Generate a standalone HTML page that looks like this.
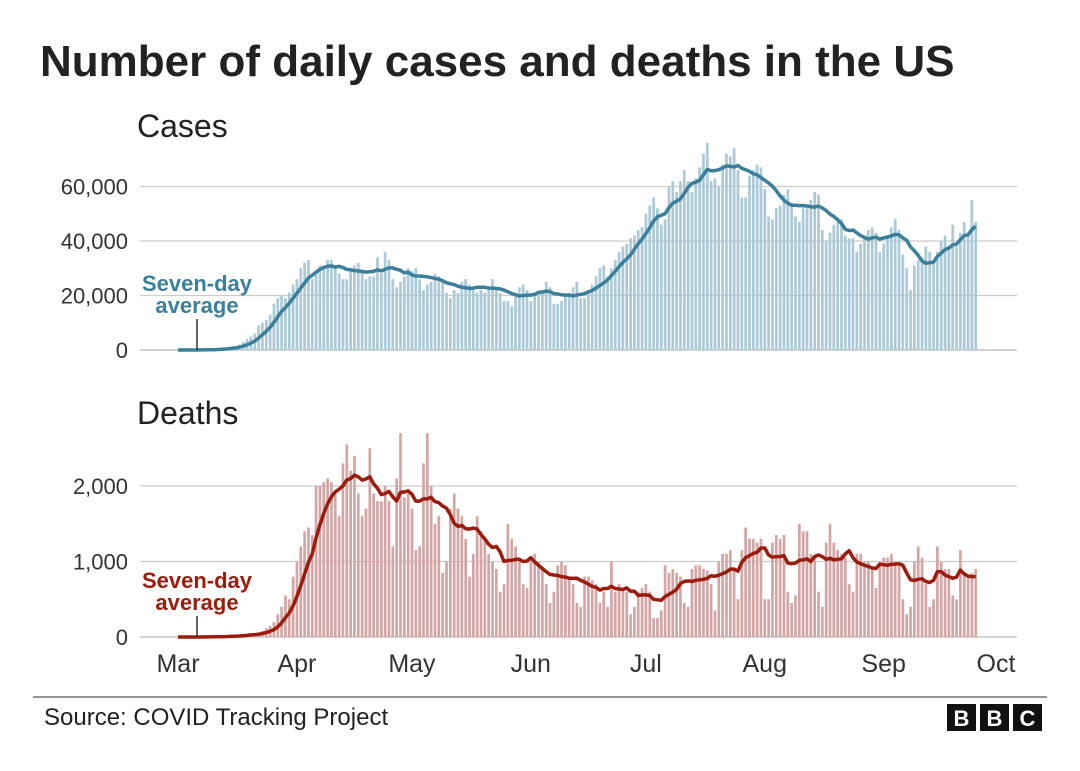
<!DOCTYPE html>
<html><head><meta charset="utf-8"><style>
body{margin:0;background:#fff;font-family:"Liberation Sans",sans-serif;}
#wrap{position:relative;width:1080px;height:771px;overflow:hidden;}
</style></head><body>
<div id="wrap">
<svg id="svg" width="1080" height="771">
<text x="40" y="76" font-size="44" font-weight="bold" fill="#222">Number of daily cases and deaths in the US</text>
<text x="137" y="137" font-size="32" fill="#222">Cases</text>
<text x="137" y="424" font-size="32" fill="#222">Deaths</text>
<g id="cases"></g>
<g id="deaths"></g>
<g id="xaxis"></g>
<text x="197" y="291" font-size="22" font-weight="bold" fill="#3a7f9c" text-anchor="middle">Seven-day</text>
<text x="197" y="313" font-size="22" font-weight="bold" fill="#3a7f9c" text-anchor="middle">average</text>
<line x1="197" y1="319" x2="197" y2="350" stroke="#333" stroke-width="1.5"/>
<text x="197" y="588" font-size="22" font-weight="bold" fill="#9b1c0c" text-anchor="middle">Seven-day</text>
<text x="197" y="610" font-size="22" font-weight="bold" fill="#9b1c0c" text-anchor="middle">average</text>
<line x1="197" y1="616" x2="197" y2="637" stroke="#333" stroke-width="1.5"/>
<line x1="33" y1="697" x2="1047" y2="697" stroke="#555" stroke-width="1.2"/>
<text x="44" y="725" font-size="24" fill="#222">Source: COVID Tracking Project</text>
<g>
<rect x="947" y="704" width="29" height="27" fill="#111"/><rect x="980" y="704" width="29" height="27" fill="#111"/><rect x="1013" y="704" width="29" height="27" fill="#111"/>
<text x="961.5" y="726" font-size="22" font-weight="bold" fill="#fff" text-anchor="middle">B</text>
<text x="994.5" y="726" font-size="22" font-weight="bold" fill="#fff" text-anchor="middle">B</text>
<text x="1027.5" y="726" font-size="22" font-weight="bold" fill="#fff" text-anchor="middle">C</text>
</g>
</svg>
</div>
<script>
const monthLabels=["Mar","Apr","May","Jun","Jul","Aug","Sep","Oct"];
const monthStartDay=[0,31,61,92,122,153,184,214];
const caseTicks=[0,20000,40000,60000];
const deathTicks=[0,1000,2000];
// daily cases in thousands, Mar 1 .. Sep 25
const casesK=[0,0,0,0,0,0.05,0.1,0.1,0.2,0.3,0.4,0.5,0.7,0.9,1.2,1.5,2,3,4,5,6,9,10,11,13,17,19,20,19,21,24,
26,30,32,33,26,29,31,31,33,33,30,28,26,26,30,31,32,29,26,27,27,34,28,36,33,26,23,25,27,30,
29,30,26,22,24,25,28,27,26,21,19,22,21,25,26,24,22,21,22,21,23,26,23,21,18,18,16,20,23,24,22,
18,20,21,21,25,23,17,17,18,20,21,23,25,19,19,22,24,27,30,31,27,30,33,36,38,39,41,42,44,45,
50,53,56,52,46,48,60,62,58,62,66,62,58,63,67,72,76,62,63,60,68,72,71,74,66,56,56,64,66,68,67,
59,49,48,52,53,57,59,54,49,47,52,52,55,58,57,44,40,43,46,47,48,42,41,41,36,39,42,44,45,43,36,
39,41,45,48,44,35,30,22,31,33,34,38,36,32,36,40,42,38,46,38,43,47,42,55,47];
const deaths=[0,0,0,0,0,1,2,3,4,5,7,8,10,12,15,20,25,30,40,50,40,50,80,120,150,200,300,400,550,500,800,
1000,1200,1400,1450,1350,2000,2000,2050,2100,2050,1900,1600,2300,2550,2200,2400,1900,1600,1700,2500,1900,1800,1800,2000,1800,1200,2100,2700,1850,
1900,1700,1150,1200,2300,2700,2000,1500,1600,850,1000,1700,1900,1700,1600,1300,800,1100,1600,1400,1300,1100,1000,900,600,700,1500,1300,1200,1000,700,
650,1000,1100,1000,900,700,450,600,950,1000,950,800,700,450,400,800,800,750,700,450,600,400,1000,600,700,650,600,300,400,600,
650,700,600,250,250,350,950,850,900,850,800,450,400,900,950,950,900,880,700,350,1000,1100,1100,1150,900,500,1150,1450,1300,1300,1250,
1300,500,500,1250,1350,1300,1350,600,450,550,1500,1400,1400,1100,1050,600,400,1250,1500,1250,1150,1100,1050,700,600,1100,1100,1000,1000,900,650,
1000,1050,1050,1100,1000,950,500,300,400,1000,1200,1050,700,400,500,1200,1000,900,900,550,500,1150,850,800,850,900];

const NS="http://www.w3.org/2000/svg";
const x0=178, pxDay=3.835, gridL=140, gridR=1017;
const xDay=d=>x0+d*pxDay;
function mk(tag,attrs,parent){const e=document.createElementNS(NS,tag);for(const k in attrs)e.setAttribute(k,attrs[k]);parent.appendChild(e);return e;}
function avg7(a){return a.map((v,i)=>{const s=a.slice(Math.max(0,i-6),i+1);return s.reduce((p,c)=>p+c,0)/s.length;});}

function panel(g,vals,ticks,base,pxPer,barCol,lineCol,fmt,nm){
  const y=v=>base-v*pxPer;
  ticks.forEach(t=>{
    const l=mk('line',{x1:gridL,x2:gridR,y1:y(t),y2:y(t),stroke:t===0?'#bbb':'#ccc','stroke-width':1.3},g);
    
    
    const tx=mk('text',{x:128,y:y(t)+8,'font-size':22,fill:'#333','text-anchor':'end'},g);
    tx.textContent=fmt(t);
    
    
  });
  vals.forEach((v,i)=>{
    const r=mk('rect',{x:xDay(i)-1.3,y:y(v),width:2.7,height:Math.max(0,base-y(v)),fill:barCol},g);
    
    
  });
  const a=avg7(vals);
  const p=mk('path',{d:a.map((v,i)=>(i?'L':'M')+xDay(i).toFixed(1)+','+y(v).toFixed(1)).join(''),fill:'none',stroke:lineCol,'stroke-width':3.5,'stroke-linejoin':'round'},g);
  
  
}
panel(document.getElementById('cases'),casesK.map(v=>v*1000),caseTicks,350,54.5/20000,'#abc9d7','#3a7f9c',t=>t.toLocaleString('en-US'),'cases');
panel(document.getElementById('deaths'),deaths,deathTicks,637,75.5/1000,'#d4a5a5','#9b1c0c',t=>t.toLocaleString('en-US'),'deaths');
const xa=document.getElementById('xaxis');
monthLabels.forEach((m,i)=>{
  const t=mk('text',{x:Math.min(xDay(monthStartDay[i]),996),y:672,'font-size':25,fill:'#333','text-anchor':'middle'},xa);
  t.textContent=m;
  
  
});
</script>
</body></html>
